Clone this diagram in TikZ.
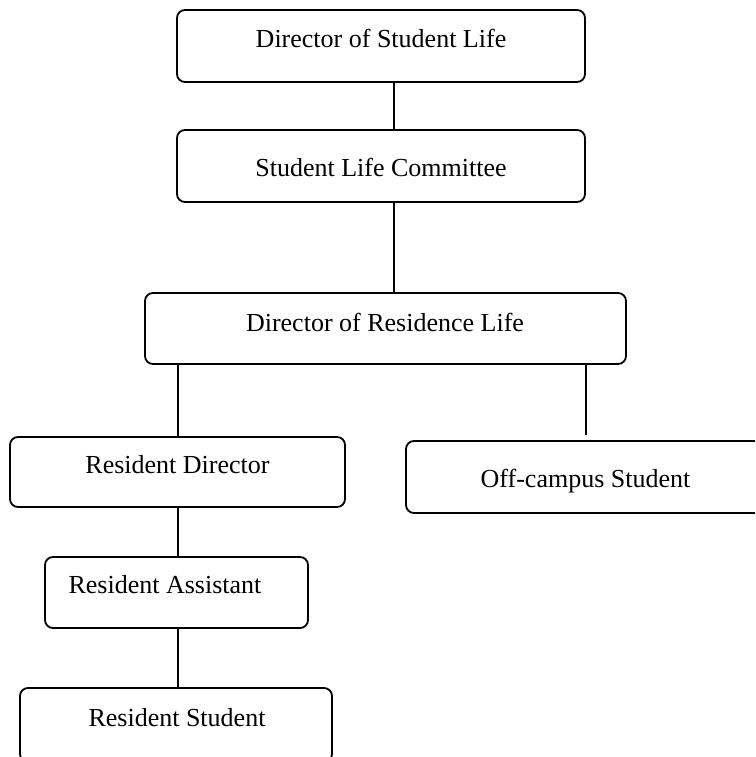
\documentclass[tikz,border=0pt]{standalone}
\usepackage{fontspec}
\setmainfont{Liberation Serif}
\begin{document}
\begin{tikzpicture}[x=1pt,y=1pt,
  box/.style={draw=black,line width=1.8pt,rounded corners=8pt,inner sep=0pt,fill=white},
  lbl/.style={anchor=base,inner sep=0pt,font=\fontsize{26}{30}\selectfont},
  conn/.style={draw=black,line width=1.8pt}]
\useasboundingbox (0,0) rectangle (755,-757);
\clip (0,0) rectangle (755,-757);
\fill[white] (0,0) rectangle (755,-757);
% boxes
\node[box,minimum width=408pt,minimum height=72pt] (b1) at (381,-46) {};
\node[box,minimum width=408pt,minimum height=72pt] (b2) at (381,-166) {};
\node[box,minimum width=481pt,minimum height=71pt] (b3) at (385.5,-328.5) {};
\node[box,minimum width=335pt,minimum height=70pt] (b4) at (177.5,-472) {};
\node[box,minimum width=359pt,minimum height=72pt] (b5) at (585.5,-477) {};
\node[box,minimum width=263pt,minimum height=71pt] (b6) at (176.5,-592.5) {};
\node[box,minimum width=312pt,minimum height=74pt] (b7) at (176,-725) {};
% texts
\node[lbl] (t1) at (381,-48) {Director of Student Life};
\node[lbl] (t2) at (381,-176.5) {Student Life Committee};
\node[lbl] (t3) at (385,-331) {Director of Residence Life};
\node[lbl] (t4) at (177.5,-473) {Resident Director};
\node[lbl] (t5) at (585.5,-487) {Off-campus Student};
\node[lbl] (t6) at (165,-593) {Resident Assistant};
\node[lbl] (t7) at (177,-726) {Resident Student};
% connectors
\coordinate (cx) at (394,0);
\coordinate (cl) at (178,0);
\coordinate (cr) at (586,0);
\draw[conn] (b1.south -| cx) -- (b2.north -| cx);
\draw[conn] (b2.south -| cx) -- (b3.north -| cx);
\draw[conn] (b3.south -| cl) -- (b4.north -| cl);
\draw[conn] (b3.south -| cr) -- ([yshift=5pt]b5.north -| cr);
\draw[conn] (b4.south -| cl) -- (b6.north -| cl);
\draw[conn] (b6.south -| cl) -- (b7.north -| cl);
\end{tikzpicture}
\end{document}
